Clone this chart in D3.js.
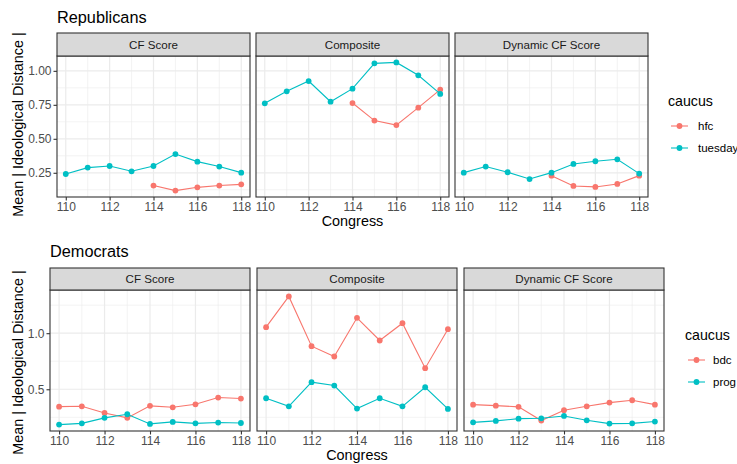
<!DOCTYPE html>
<html>
<head>
<meta charset="utf-8">
<script src="https://cdn.jsdelivr.net/npm/d3@7"></script>
<style>
  html, body { margin: 0; padding: 0; background: #ffffff; }
  svg { display: block; font-family: "Liberation Sans", Arial, sans-serif; }
</style>
</head>
<body>
<svg id="chart" width="737" height="464"></svg>
<script>
// Congress sessions on the x axis
const congress = [110, 111, 112, 113, 114, 115, 116, 117, 118];
const facets = ["CF Score", "Composite", "Dynamic CF Score"];
const xTicks = [110, 112, 114, 116, 118];

// Republicans: Tuesday Group (all sessions) and Freedom Caucus (114th onward)
const repTuesdayCF        = [0.241, 0.288, 0.300, 0.261, 0.300, 0.388, 0.332, 0.296, 0.251];
const repTuesdayComposite = [0.761, 0.849, 0.925, 0.773, 0.869, 1.055, 1.062, 0.967, 0.830];
const repTuesdayDynamic   = [0.251, 0.296, 0.254, 0.204, 0.251, 0.315, 0.335, 0.349, 0.244];
const repHfcCongress      = [114, 115, 116, 117, 118];
const repHfcCF            = [0.156, 0.119, 0.143, 0.156, 0.165];
const repHfcComposite     = [0.763, 0.634, 0.601, 0.729, 0.862];
const repHfcDynamic       = [0.229, 0.153, 0.146, 0.168, 0.229];
const repYTicks = [0.25, 0.50, 0.75, 1.00];

// Democrats: Blue Dog Coalition and Progressive Caucus
const demBdcCF         = [0.345, 0.348, 0.289, 0.245, 0.352, 0.339, 0.366, 0.426, 0.417];
const demBdcComposite  = [1.054, 1.328, 0.884, 0.792, 1.137, 0.935, 1.089, 0.688, 1.036];
const demBdcDynamic    = [0.363, 0.354, 0.343, 0.221, 0.313, 0.348, 0.381, 0.402, 0.363];
const demProgCF        = [0.185, 0.196, 0.245, 0.277, 0.191, 0.209, 0.196, 0.203, 0.199];
const demProgComposite = [0.420, 0.348, 0.563, 0.533, 0.328, 0.420, 0.348, 0.518, 0.325];
const demProgDynamic   = [0.205, 0.218, 0.238, 0.241, 0.262, 0.223, 0.194, 0.196, 0.212];
const demYTicks = [0.5, 1.0];

const red = "#F8766D", teal = "#00BFC4";

const pairs = (xs, ys) => xs.map((x, i) => ({ x, y: ys[i] }));

const rows = [
  {
    title: "Republicans",
    titleY: 23,
    stripTop: 33, panelTop: 56, panelBottom: 197,
    panelX: [57, 256, 455], panelW: 193,
    yTicks: repYTicks, yFmt: d3.format(".2f"),
    xTitleY: 226, yTitleShift: -2,
    legend: { x: 668, titleY: 106, keyY: [126, 148], labelGap: 27 },
    series: [
      { name: "hfc", color: red, data: [pairs(repHfcCongress, repHfcCF), pairs(repHfcCongress, repHfcComposite), pairs(repHfcCongress, repHfcDynamic)] },
      { name: "tuesday", color: teal, data: [pairs(congress, repTuesdayCF), pairs(congress, repTuesdayComposite), pairs(congress, repTuesdayDynamic)] }
    ]
  },
  {
    title: "Democrats",
    titleY: 257,
    stripTop: 268, panelTop: 290, panelBottom: 431,
    panelX: [50, 257, 464], panelW: 200,
    yTicks: demYTicks, yFmt: d3.format(".1f"),
    xTitleY: 460, yTitleShift: 2,
    legend: { x: 685, titleY: 340, keyY: [360, 382], labelGap: 25 },
    series: [
      { name: "bdc", color: red, data: [pairs(congress, demBdcCF), pairs(congress, demBdcComposite), pairs(congress, demBdcDynamic)] },
      { name: "prog", color: teal, data: [pairs(congress, demProgCF), pairs(congress, demProgComposite), pairs(congress, demProgDynamic)] }
    ]
  }
];

const svg = d3.select("#chart");

rows.forEach(row => {
  const g = svg.append("g");

  // shared y domain across the three facets, with 5% padding
  const allY = row.series.flatMap(s => s.data.flat().map(d => d.y));
  const [yMin, yMax] = d3.extent(allY);
  const yPad = (yMax - yMin) * 0.05;
  const y = d3.scaleLinear().domain([yMin - yPad, yMax + yPad]).range([row.panelBottom, row.panelTop]);

  const xPad = (118 - 110) * 0.05;
  const panelH = row.panelBottom - row.panelTop;

  // minor y breaks halfway between majors
  const step = row.yTicks[1] - row.yTicks[0];
  const yMinor = [];
  for (let v = row.yTicks[0] - step / 2; v <= y.domain()[1]; v += step) {
    if (v >= y.domain()[0]) yMinor.push(v);
  }
  const xMinor = [111, 113, 115, 117];

  facets.forEach((facet, fi) => {
    const px = row.panelX[fi];
    const x = d3.scaleLinear().domain([110 - xPad, 118 + xPad]).range([px, px + row.panelW]);
    const p = g.append("g");

    // panel background
    p.append("rect").attr("x", px).attr("y", row.panelTop)
      .attr("width", row.panelW).attr("height", panelH).attr("fill", "#ffffff");

    const grid = p.append("g").attr("fill", "none");
    grid.selectAll(".ymin").data(yMinor).join("line")
      .attr("x1", px).attr("x2", px + row.panelW)
      .attr("y1", d => y(d)).attr("y2", d => y(d))
      .attr("stroke", "#EBEBEB").attr("stroke-width", 0.6);
    grid.selectAll(".xmin").data(xMinor).join("line")
      .attr("x1", d => x(d)).attr("x2", d => x(d))
      .attr("y1", row.panelTop).attr("y2", row.panelBottom)
      .attr("stroke", "#EBEBEB").attr("stroke-width", 0.6);
    grid.selectAll(".ymaj").data(row.yTicks).join("line")
      .attr("x1", px).attr("x2", px + row.panelW)
      .attr("y1", d => y(d)).attr("y2", d => y(d))
      .attr("stroke", "#EBEBEB").attr("stroke-width", 1.2);
    grid.selectAll(".xmaj").data(xTicks).join("line")
      .attr("x1", d => x(d)).attr("x2", d => x(d))
      .attr("y1", row.panelTop).attr("y2", row.panelBottom)
      .attr("stroke", "#EBEBEB").attr("stroke-width", 1.2);

    // series lines and points
    const line = d3.line().x(d => x(d.x)).y(d => y(d.y));
    row.series.forEach(s => {
      const data = s.data[fi];
      p.append("path").datum(data).attr("d", line)
        .attr("fill", "none").attr("stroke", s.color).attr("stroke-width", 1.1);
      p.selectAll(null).data(data).join("circle")
        .attr("cx", d => x(d.x)).attr("cy", d => y(d.y)).attr("r", 2.9)
        .attr("fill", s.color);
    });

    // panel border
    p.append("rect").attr("x", px).attr("y", row.panelTop)
      .attr("width", row.panelW).attr("height", panelH)
      .attr("fill", "none").attr("stroke", "#333333").attr("stroke-width", 1.1);

    // facet strip
    p.append("rect").attr("x", px).attr("y", row.stripTop)
      .attr("width", row.panelW).attr("height", row.panelTop - row.stripTop)
      .attr("fill", "#D9D9D9").attr("stroke", "#333333").attr("stroke-width", 1.1);
    p.append("text").attr("x", px + row.panelW / 2).attr("y", (row.stripTop + row.panelTop) / 2)
      .attr("dy", "0.36em").attr("text-anchor", "middle")
      .attr("font-size", 11.6).attr("fill", "#1A1A1A").text(facet);

    // x axis
    const xAxis = d3.axisBottom(x).tickValues(xTicks).tickSize(3.5).tickPadding(2).tickFormat(d3.format("d"));
    const xa = p.append("g").attr("transform", `translate(0,${row.panelBottom})`).call(xAxis);
    xa.select(".domain").remove();
    xa.selectAll(".tick line").attr("stroke", "#333333").attr("stroke-width", 1.1);
    xa.selectAll(".tick text").attr("font-size", 12).attr("fill", "#4D4D4D")
      .attr("font-family", "Liberation Sans, Arial, sans-serif");

    // y axis on the first facet only
    if (fi === 0) {
      const yAxis = d3.axisLeft(y).tickValues(row.yTicks).tickSize(3.5).tickPadding(2).tickFormat(row.yFmt);
      const ya = p.append("g").attr("transform", `translate(${px},0)`).call(yAxis);
      ya.select(".domain").remove();
      ya.selectAll(".tick line").attr("stroke", "#333333").attr("stroke-width", 1.1);
      ya.selectAll(".tick text").attr("font-size", 12).attr("fill", "#4D4D4D")
        .attr("font-family", "Liberation Sans, Arial, sans-serif");
    }
  });

  const left = row.panelX[0], right = row.panelX[2] + row.panelW;

  // row title
  g.append("text").attr("x", left).attr("y", row.titleY)
    .attr("font-size", 16.3).attr("fill", "#000").text(row.title);

  // axis titles
  g.append("text").attr("x", (left + right) / 2).attr("y", row.xTitleY)
    .attr("text-anchor", "middle").attr("font-size", 14.4).attr("fill", "#000").text("Congress");
  g.append("text")
    .attr("transform", `translate(23,${(row.panelTop + row.panelBottom) / 2 + row.yTitleShift}) rotate(-90)`)
    .attr("text-anchor", "middle").attr("font-size", 14.4).attr("fill", "#000")
    .text("Mean | Ideological Distance |");

  // legend
  const lg = g.append("g");
  lg.append("text").attr("x", row.legend.x).attr("y", row.legend.titleY)
    .attr("font-size", 14.2).attr("fill", "#000").text("caucus");
  row.series.forEach((s, i) => {
    const ky = row.legend.keyY[i];
    const kx = row.legend.x + 3;
    lg.append("line").attr("x1", kx).attr("x2", kx + 17).attr("y1", ky).attr("y2", ky)
      .attr("stroke", s.color).attr("stroke-width", 1.1);
    lg.append("circle").attr("cx", kx + 8.5).attr("cy", ky).attr("r", 2.9).attr("fill", s.color);
    lg.append("text").attr("x", kx + row.legend.labelGap).attr("y", ky).attr("dy", "0.36em")
      .attr("font-size", 11.5).attr("fill", "#000").text(s.name);
  });
});
</script>
</body>
</html>
